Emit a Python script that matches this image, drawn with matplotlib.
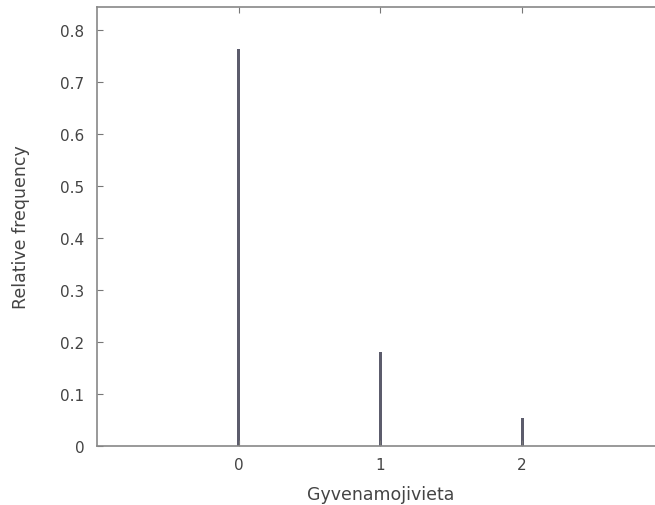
import numpy as np
import matplotlib.pyplot as plt

places = [0, 1, 2]
freq = [0.765, 0.181, 0.054]

y_ticks = [0, 0.1, 0.2, 0.3, 0.4, 0.5, 0.6, 0.7, 0.8]
y_labels = ["0", "0.1", "0.2", "0.3", "0.4", "0.5", "0.6", "0.7", "0.8"]

plt.rcParams["font.family"] = ["DejaVu Sans"]
fig = plt.figure(figsize=(6.55, 5.06), dpi=100)
# right part of the plot frame is cut off by the image edge
ax = fig.add_axes([0.148, 0.1166, 0.8656, 0.8676])

ax.bar(places, freq, width=0.02, color="#5c5c6c")

ax.set_xlim(-1, 3)
ax.set_ylim(0, 0.845)
ax.set_xticks(places)
ax.set_yticks(y_ticks)
ax.set_yticklabels(y_labels)

for s in ax.spines.values():
    s.set_color("#888888")
    s.set_linewidth(1.2)
ax.tick_params(direction="in", length=4, color="#777777", labelsize=11,
               labelcolor="#444444", top=True, right=True, pad=9)
ax.tick_params(axis="x", pad=8)

ax.set_xlabel("Gyvenamojivieta", fontsize=12.5, color="#444444", labelpad=9)
ax.set_ylabel("Relative frequency", fontsize=12.5, color="#444444", labelpad=22)

fig.savefig("out.png", dpi=100)
